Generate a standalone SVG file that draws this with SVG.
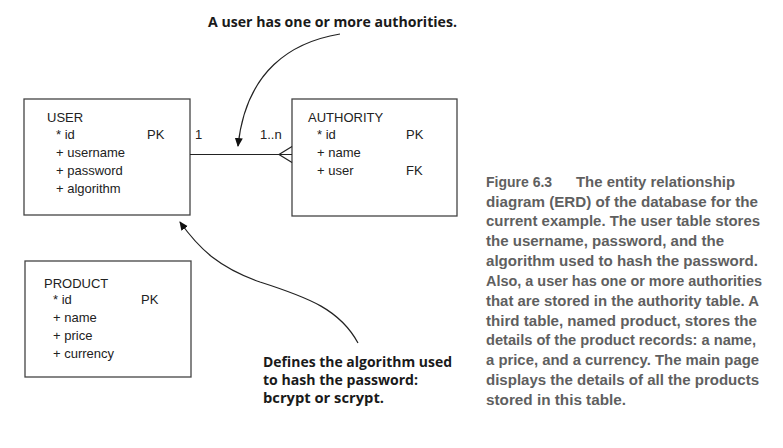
<svg xmlns="http://www.w3.org/2000/svg" width="783" height="448" viewBox="0 0 783 448">
<style>
.box{fill:#fff;stroke:#444;stroke-width:1.3}
.t{font-family:"Liberation Sans",Arial,sans-serif;font-size:13px;fill:#222}
.lbl{font-family:"Open Sans","Liberation Sans",sans-serif;font-weight:bold;font-size:14px;fill:#1a1a1a}
.cap{font-family:"Liberation Sans",Arial,sans-serif;font-weight:bold;font-size:14px;fill:#5f5f5f}
.ln{fill:none;stroke:#222;stroke-width:1.2}
</style>
<defs>
<marker id="ah" markerWidth="10" markerHeight="10" refX="8" refY="4" orient="auto" markerUnits="userSpaceOnUse">
<path d="M0,0 L9,4 L0,8 Z" fill="#111"/>
</marker>
</defs>
<rect width="783" height="448" fill="#fff"/>
<g id="user">
<rect class="box" x="24" y="99" width="166" height="116"/>
<text class="t" x="47" y="122">USER</text>
<text class="t" x="56" y="139">* id</text>
<text class="t" x="147" y="139">PK</text>
<text class="t" x="56" y="157">+ username</text>
<text class="t" x="56" y="175">+ password</text>
<text class="t" x="56" y="193">+ algorithm</text>
</g>
<g id="authority">
<rect class="box" x="292" y="99" width="165" height="117"/>
<text class="t" x="308" y="122">AUTHORITY</text>
<text class="t" x="317" y="139">* id</text>
<text class="t" x="406" y="139">PK</text>
<text class="t" x="317" y="157">+ name</text>
<text class="t" x="317" y="175">+ user</text>
<text class="t" x="406" y="175">FK</text>
</g>
<g id="product">
<rect class="box" x="25" y="261" width="166" height="116"/>
<text class="t" x="44" y="288">PRODUCT</text>
<text class="t" x="53" y="304">* id</text>
<text class="t" x="141" y="304">PK</text>
<text class="t" x="53" y="322">+ name</text>
<text class="t" x="53" y="340">+ price</text>
<text class="t" x="53" y="358">+ currency</text>
</g>
<g id="connectors">
<line class="ln" x1="190" y1="154.5" x2="292" y2="154.5"/>
<path class="ln" d="M292,146.5 L279,154.5 L292,162.5"/>
<text class="t" x="195" y="139">1</text>
<text class="t" x="260" y="139">1..n</text>
<path class="ln" d="M340,34 C292,42 246,70 238,146" marker-end="url(#ah)"/>
<path class="ln" d="M358,343 C340,310 310,298 260,282 C220,268 200,250 180,222" marker-end="url(#ah)"/>
</g>
<g id="labels">
<text class="lbl" x="208" y="27" textLength="249" lengthAdjust="spacingAndGlyphs">A user has one or more authorities.</text>
<text class="lbl" x="263" y="367" textLength="189" lengthAdjust="spacingAndGlyphs">Defines the algorithm used</text>
<text class="lbl" x="263" y="385" textLength="155" lengthAdjust="spacingAndGlyphs">to hash the password:</text>
<text class="lbl" x="263" y="403" textLength="121" lengthAdjust="spacingAndGlyphs">bcrypt or scrypt.</text>
</g>
<g id="caption">
<text class="cap" x="486" y="187">Figure 6.3</text>
<text class="cap" x="576" y="187" textLength="159" lengthAdjust="spacingAndGlyphs">The entity relationship</text>
<text class="cap" x="486" y="207" textLength="272" lengthAdjust="spacingAndGlyphs">diagram (ERD) of the database for the</text>
<text class="cap" x="486" y="226" textLength="274" lengthAdjust="spacingAndGlyphs">current example. The user table stores</text>
<text class="cap" x="486" y="246" textLength="238" lengthAdjust="spacingAndGlyphs">the username, password, and the</text>
<text class="cap" x="486" y="266" textLength="272" lengthAdjust="spacingAndGlyphs">algorithm used to hash the password.</text>
<text class="cap" x="486" y="286" textLength="276" lengthAdjust="spacingAndGlyphs">Also, a user has one or more authorities</text>
<text class="cap" x="486" y="306" textLength="273" lengthAdjust="spacingAndGlyphs">that are stored in the authority table. A</text>
<text class="cap" x="486" y="326" textLength="271" lengthAdjust="spacingAndGlyphs">third table, named product, stores the</text>
<text class="cap" x="486" y="345" textLength="270" lengthAdjust="spacingAndGlyphs">details of the product records: a name,</text>
<text class="cap" x="486" y="365" textLength="273" lengthAdjust="spacingAndGlyphs">a price, and a currency. The main page</text>
<text class="cap" x="486" y="385" textLength="273" lengthAdjust="spacingAndGlyphs">displays the details of all the products</text>
<text class="cap" x="486" y="405" textLength="140" lengthAdjust="spacingAndGlyphs">stored in this table.</text>
</g>
</svg>
